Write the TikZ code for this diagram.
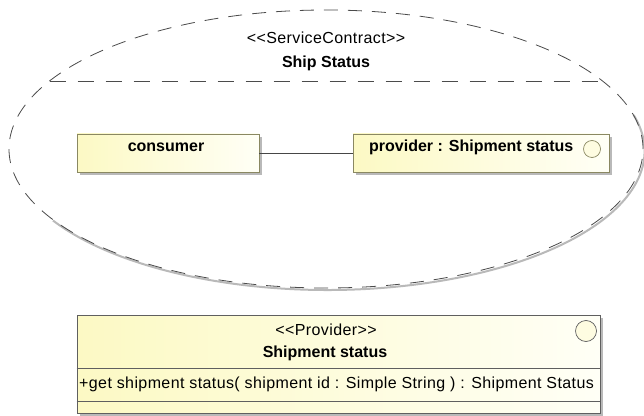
\documentclass[tikz,border=0pt]{standalone}
\usepackage{fontspec}
\setmainfont{Liberation Sans}[Ligatures=TeXOff]
\definecolor{boxyellow}{RGB}{252,249,196}
\definecolor{boxwhite}{RGB}{255,255,246}
\definecolor{boxborder}{RGB}{138,136,98}
\definecolor{bigborder}{RGB}{95,95,95}
\definecolor{shadowgray}{RGB}{185,185,185}
\definecolor{dashgray}{RGB}{75,75,75}
\definecolor{linegray}{RGB}{70,70,70}
\tikzset{
  partbox/.style={draw=boxborder, line width=0.8pt, left color=boxyellow, right color=boxwhite,
    minimum width=#1, minimum height=38pt, inner sep=0pt, rectangle},
  partshadow/.style={fill=shadowgray},
  boldtxt/.style={font=\fontsize{16}{19}\selectfont\bfseries, inner sep=0pt},
  regtxt/.style={font=\fontsize{16}{19}\selectfont\addfontfeature{LetterSpace=2.5}, inner sep=0pt},
  contractline/.style={draw=dashgray, line width=0.8pt, dash pattern=on 14pt off 10pt},
  iface/.style={circle, draw=boxborder, fill=boxyellow!50!white, line width=0.7pt, inner sep=0pt, minimum size=#1},
}
\begin{document}
\begin{tikzpicture}[x=1pt,y=1pt]
\useasboundingbox (0,0) rectangle (644,415);
\fill[white] (0,0) rectangle (644,415);
% contract ellipse
\coordinate (ec) at (326,266);
\draw[shadowgray, line width=2pt] ([shift={(1.5,-2)}]ec) ++(15:317pt and 139pt) arc[start angle=15, end angle=-150, x radius=317pt, y radius=139pt];
\draw[contractline] (ec) ellipse[x radius=317pt, y radius=139pt];
\coordinate (chordL) at (49.5,334);
\coordinate (chordR) at (602.5,334);
\draw[contractline, dash pattern=on 16pt off 12pt] (chordL) -- (chordR);
\node[regtxt] (stereo) at (326,377) {<<ServiceContract>>};
\node[boldtxt] (cname) at (326,352) {Ship Status};
% parts
\fill[partshadow] (80,240) rectangle (262,278);
\node[partbox=182pt] (consumer) at (168,262) {};
\node[boldtxt] (consumerlbl) at (166,268) {consumer};
\fill[partshadow] (356,240) rectangle (612,278);
\node[partbox=256pt] (provider) at (481,262) {};
\node[boldtxt, anchor=west] (providerlbl) at (369,268) {provider : Shipment status};
\node[iface=17pt] (provcirc) at (592,266) {};
\draw[linegray, line width=0.8pt] (consumer.east) -- (provider.west);
% provider class
\fill[partshadow] (80,-2) rectangle (603,97);
\node[draw=bigborder, line width=0.8pt, left color=boxyellow, right color=boxwhite, rectangle,
  minimum width=523pt, minimum height=98pt, inner sep=0pt] (cls) at (338.5,51) {};
\draw[bigborder, line width=0.8pt] (cls.west |- 0,47) -- (cls.east |- 0,47);
\draw[bigborder, line width=0.8pt] (cls.west |- 0,14) -- (cls.east |- 0,14);
\node[regtxt] (clsstereo) at (326,85) {<<Provider>>};
\node[boldtxt] (clsname) at (325,62) {Shipment status};
\node[regtxt, anchor=west] (clsop) at (79,30.5) {+get shipment status( shipment id : Simple String ) : Shipment Status};
\node[iface=21pt, draw=bigborder] (clscirc) at (586,84) {};
\end{tikzpicture}
\end{document}
